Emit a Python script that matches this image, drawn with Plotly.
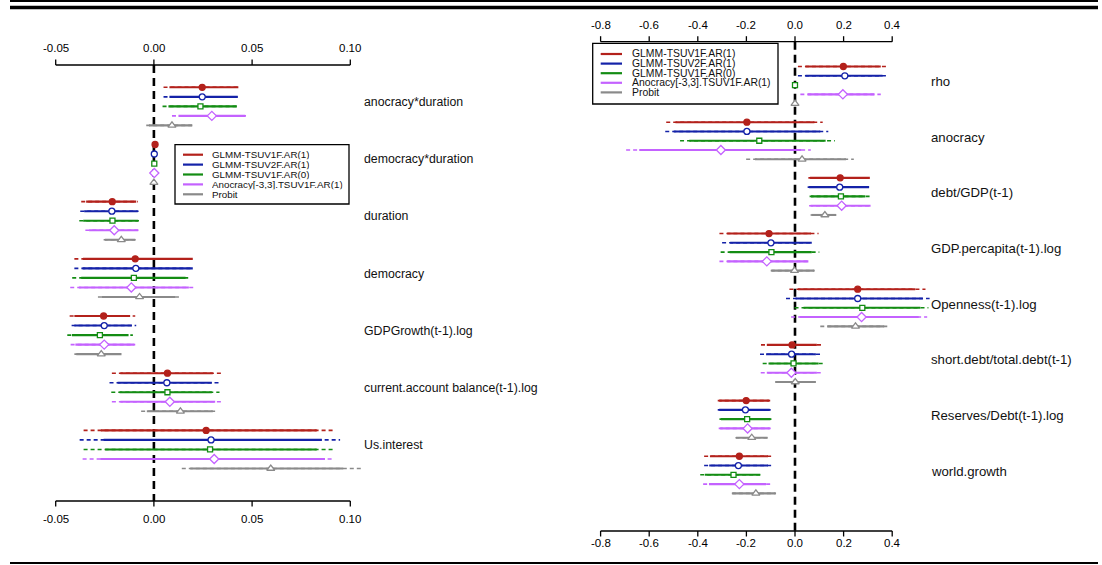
import plotly.graph_objects as go

W, H = 1102, 565
FONT = "Liberation Sans, Arial, Helvetica, sans-serif"

# ---- model series --------------------------------------------------------
SERIES = ["GLMM-TSUV1F.AR(1)", "GLMM-TSUV2F.AR(1)", "GLMM-TSUV1F.AR(0)",
          "Anocracy[-3,3].TSUV1F.AR(1)", "Probit"]
COLORS = ["#B3211B", "#1422A8", "#138C13", "#C462FF", "#8A8A8A"]
SYMBOLS = ["circle", "circle", "square", "diamond", "triangle-up"]
FILLED = [True, False, False, False, False]
MSIZE = [6, 6, 5, 7, 7]

# ---- left panel: coefficients -------------------------------------------
LEFT_VARS = ["anocracy*duration", "democracy*duration", "duration", "democracy",
             "GDPGrowth(t-1).log", "current.account balance(t-1).log", "Us.interest"]
LEFT_TICKS = [-0.05, 0.0, 0.05, 0.10]
LEFT_TICK_TEXT = ["-0.05", "0.00", "0.05", "0.10"]

# rows = series (same order as SERIES), columns = LEFT_VARS
LEFT_EST = [
    [0.0246, 0.0006, -0.0212, -0.0095, -0.0256, 0.0069, 0.0266],
    [0.0246, 0.0002, -0.0214, -0.0092, -0.0253, 0.0066, 0.0291],
    [0.0237, 0.0002, -0.0211, -0.0102, -0.0275, 0.0069, 0.0286],
    [0.0295, 0.0002, -0.0202, -0.0115, -0.0253, 0.0081, 0.0307],
    [0.0092, 0.0000, -0.0166, -0.0073, -0.0268, 0.0135, 0.0595],
]
LEFT_LO95 = [
    [0.0049, 0.0003, -0.0370, -0.0405, -0.0429, -0.0214, -0.0358],
    [0.0049, -0.0001, -0.0375, -0.0405, -0.0419, -0.0226, -0.0378],
    [0.0044, -0.0001, -0.0380, -0.0416, -0.0441, -0.0217, -0.0358],
    [0.0092, -0.0001, -0.0349, -0.0426, -0.0424, -0.0214, -0.0363],
    [-0.0039, -0.0001, -0.0256, -0.0285, -0.0405, -0.0065, 0.0142],
]
LEFT_LO90 = [
    [0.0079, 0.0004, -0.0345, -0.0361, -0.0405, -0.0171, -0.0270],
    [0.0079, 0.0000, -0.0355, -0.0363, -0.0405, -0.0185, -0.0256],
    [0.0074, 0.0000, -0.0360, -0.0370, -0.0417, -0.0175, -0.0248],
    [0.0125, 0.0000, -0.0330, -0.0382, -0.0400, -0.0171, -0.0273],
    [-0.0025, 0.0000, -0.0250, -0.0265, -0.0395, -0.0036, 0.0185],
]
LEFT_HI90 = [
    [0.0430, 0.0008, -0.0090, 0.0198, -0.0121, 0.0300, 0.0829],
    [0.0427, 0.0004, -0.0082, 0.0198, -0.0112, 0.0295, 0.0855],
    [0.0422, 0.0004, -0.0080, 0.0161, -0.0129, 0.0295, 0.0829],
    [0.0465, 0.0004, -0.0080, 0.0178, -0.0100, 0.0312, 0.0871],
    [0.0195, 0.0001, -0.0095, 0.0108, -0.0165, 0.0300, 0.0964],
]
LEFT_HI95 = [
    [0.0435, 0.0009, -0.0081, 0.0200, -0.0095, 0.0346, 0.0922],
    [0.0430, 0.0005, -0.0078, 0.0200, -0.0090, 0.0334, 0.0948],
    [0.0424, 0.0005, -0.0076, 0.0188, -0.0107, 0.0334, 0.0922],
    [0.0469, 0.0005, -0.0070, 0.0210, -0.0095, 0.0346, 0.0917],
    [0.0201, 0.0002, -0.0090, 0.0137, -0.0158, 0.0312, 0.1063],
]

# ---- right panel: coefficients ------------------------------------------
RIGHT_VARS = ["rho", "anocracy", "debt/GDP(t-1)", "GDP.percapita(t-1).log",
              "Openness(t-1).log", "short.debt/total.debt(t-1)",
              "Reserves/Debt(t-1).log", "world.growth"]
RIGHT_TICKS = [-0.8, -0.6, -0.4, -0.2, 0.0, 0.2, 0.4]
RIGHT_TICK_TEXT = ["-0.8", "-0.6", "-0.4", "-0.2", "0.0", "0.2", "0.4"]

RIGHT_EST = [
    [0.199, -0.198, 0.186, -0.107, 0.258, -0.012, -0.201, -0.229],
    [0.205, -0.198, 0.184, -0.099, 0.258, -0.014, -0.204, -0.233],
    [0.000, -0.147, 0.189, -0.097, 0.277, -0.006, -0.197, -0.253],
    [0.197, -0.305, 0.192, -0.116, 0.274, -0.015, -0.195, -0.229],
    [0.000, 0.029, 0.123, -0.002, 0.249, 0.001, -0.178, -0.161],
]
RIGHT_LO95 = [
    [0.012, -0.530, 0.055, -0.311, -0.023, -0.140, -0.318, -0.374],
    [0.012, -0.534, 0.052, -0.300, -0.037, -0.144, -0.318, -0.374],
    [0.000, -0.473, 0.060, -0.306, -0.002, -0.133, -0.311, -0.390],
    [0.022, -0.695, 0.058, -0.311, -0.016, -0.141, -0.314, -0.378],
    [0.000, -0.201, 0.064, -0.100, 0.104, -0.082, -0.245, -0.260],
]
RIGHT_LO90 = [
    [0.043, -0.492, 0.062, -0.279, 0.012, -0.116, -0.312, -0.350],
    [0.043, -0.499, 0.058, -0.267, 0.002, -0.119, -0.312, -0.353],
    [0.000, -0.435, 0.066, -0.269, 0.035, -0.109, -0.305, -0.371],
    [0.052, -0.641, 0.064, -0.279, 0.019, -0.116, -0.308, -0.354],
    [0.000, -0.165, 0.068, -0.097, 0.133, -0.080, -0.243, -0.258],
]
RIGHT_HI90 = [
    [0.353, 0.080, 0.308, 0.066, 0.495, 0.090, -0.106, -0.111],
    [0.360, 0.104, 0.305, 0.069, 0.526, 0.086, -0.104, -0.111],
    [0.000, 0.126, 0.289, 0.069, 0.516, 0.097, -0.101, -0.143],
    [0.327, 0.026, 0.311, 0.055, 0.509, 0.090, -0.104, -0.119],
    [0.000, 0.210, 0.170, 0.079, 0.367, 0.086, -0.113, -0.080],
]
RIGHT_HI95 = [
    [0.378, 0.114, 0.312, 0.097, 0.537, 0.111, -0.102, -0.087],
    [0.384, 0.137, 0.309, 0.072, 0.554, 0.107, -0.100, -0.090],
    [0.000, 0.164, 0.316, 0.100, 0.549, 0.118, -0.097, -0.141],
    [0.353, 0.065, 0.315, 0.062, 0.544, 0.111, -0.100, -0.098],
    [0.000, 0.242, 0.172, 0.081, 0.392, 0.088, -0.111, -0.078],
]

GROUP_STEP = 6  # five model rows plus one blank row per variable


def fx(px):
    return px / W


def fy(px):
    return 1 - px / H


# panel geometry (pixels): x0 = pixel of value 0, sx = pixels per unit,
# r0 = pixel of first row, sr = pixels per row
PANELS = [
    dict(xa="x", ya="y", x0=153.9, sx=1964.0, r0=87.3, sr=9.53,
         dom=(0, 560), vars=LEFT_VARS, ticks=LEFT_TICKS, ticktext=LEFT_TICK_TEXT,
         est=LEFT_EST, lo95=LEFT_LO95, lo90=LEFT_LO90, hi90=LEFT_HI90, hi95=LEFT_HI95,
         ax_top=65, ax_bot=501, lab_top=48, lab_bot=519, tick_font=11.5,
         var_x=362, var_font=12.3, var_off=1.55,
         legend=dict(box=(175, 144.7, 349, 204), row0=154.7, drow=9.9,
                     line=(183, 203), text=211, font=9.8, box_h=9.3)),
    dict(xa="x2", ya="y2", x0=795.0, sx=243.0, r0=66.5, sr=9.28,
         dom=(560, W), vars=RIGHT_VARS, ticks=RIGHT_TICKS, ticktext=RIGHT_TICK_TEXT,
         est=RIGHT_EST, lo95=RIGHT_LO95, lo90=RIGHT_LO90, hi90=RIGHT_HI90, hi95=RIGHT_HI95,
         ax_top=41.7, ax_bot=531, lab_top=25, lab_bot=543, tick_font=11.5,
         var_x=929, var_font=13.2, var_off=1.6,
         legend=dict(box=(592.7, 43.3, 778, 104), row0=54, drow=9.6,
                     line=(600.7, 622), text=630.7, font=10.4, box_h=None)),
]

fig = go.Figure()
shapes = []
annotations = []

for p in PANELS:
    xa, ya = p["xa"], p["ya"]
    for s, name in enumerate(SERIES):
        rows = [g * GROUP_STEP + s for g in range(len(p["vars"]))]
        xo, yo, xi, yi = [], [], [], []
        for g, r in enumerate(rows):
            if p["hi95"][s][g] > p["lo95"][s][g]:
                xo += [p["lo95"][s][g], p["hi95"][s][g], None]
                yo += [r, r, None]
            if p["hi90"][s][g] > p["lo90"][s][g]:
                xi += [p["lo90"][s][g], p["hi90"][s][g], None]
                yi += [r, r, None]
        fig.add_trace(go.Scatter(x=xo, y=yo, xaxis=xa, yaxis=ya, mode="lines",
                                 line=dict(color=COLORS[s], width=1.6, dash="4px,3px"),
                                 showlegend=False, hoverinfo="skip"))
        fig.add_trace(go.Scatter(x=xi, y=yi, xaxis=xa, yaxis=ya, mode="lines",
                                 line=dict(color=COLORS[s], width=2.1),
                                 showlegend=False, hoverinfo="skip"))
        fig.add_trace(go.Scatter(
            x=p["est"][s], y=rows, xaxis=xa, yaxis=ya, mode="markers", name=name,
            marker=dict(symbol=SYMBOLS[s], size=MSIZE[s],
                        color=COLORS[s] if FILLED[s] else "white",
                        line=dict(color=COLORS[s], width=1.3)),
            showlegend=False, cliponaxis=False))

    # zero reference line
    shapes.append(dict(type="line", xref=xa, yref="paper", x0=0, x1=0,
                       y0=fy(p["ax_top"]), y1=fy(p["ax_bot"]),
                       line=dict(color="black", width=2.6, dash="8px,5px"), layer="below"))

    # top and bottom axes (line spans first to last tick)
    for ay, ly, direction in ((p["ax_top"], p["lab_top"], -1), (p["ax_bot"], p["lab_bot"], 1)):
        shapes.append(dict(type="line", xref=xa, yref="paper",
                           x0=p["ticks"][0], x1=p["ticks"][-1], y0=fy(ay), y1=fy(ay),
                           line=dict(color="black", width=1.3)))
        for t, tt in zip(p["ticks"], p["ticktext"]):
            shapes.append(dict(type="line", xref=xa, yref="paper", x0=t, x1=t,
                               y0=fy(ay), y1=fy(ay + direction * 5.5),
                               line=dict(color="black", width=1.3)))
            annotations.append(dict(x=t, xref=xa, y=fy(ly), yref="paper", text=tt,
                                    showarrow=False, xanchor="center", yanchor="middle",
                                    font=dict(family=FONT, size=p["tick_font"], color="black")))

    # variable labels
    for g, v in enumerate(p["vars"]):
        annotations.append(dict(x=fx(p["var_x"]), xref="paper",
                                y=g * GROUP_STEP + p["var_off"], yref=ya, text=v,
                                showarrow=False, xanchor="left", yanchor="middle",
                                font=dict(family=FONT, size=p["var_font"], color="#111")))

    # legend box
    lg = p["legend"]
    bx0, by0, bx1, by1 = lg["box"]
    shapes.append(dict(type="rect", xref="paper", yref="paper",
                       x0=fx(bx0), x1=fx(bx1), y0=fy(by0), y1=fy(by1),
                       line=dict(color="black", width=1.3), fillcolor="white"))
    for s, name in enumerate(SERIES):
        ry = lg["row0"] + s * lg["drow"]
        shapes.append(dict(type="line", xref="paper", yref="paper",
                           x0=fx(lg["line"][0]), x1=fx(lg["line"][1]), y0=fy(ry), y1=fy(ry),
                           line=dict(color=COLORS[s], width=2.2)))
        ann = dict(x=fx(lg["text"]), xref="paper", y=fy(ry), yref="paper",
                   text=name, showarrow=False, xanchor="left", yanchor="middle",
                   borderpad=0, font=dict(family=FONT, size=lg["font"], color="#111"))
        if lg["box_h"]:
            ann["height"] = lg["box_h"]
        annotations.append(ann)

# page rules
for y_px, wdt in ((1, 2), (7.5, 3.5), (563, 2)):
    shapes.append(dict(type="line", xref="paper", yref="paper", x0=fx(10), x1=fx(1098),
                       y0=fy(y_px), y1=fy(y_px), line=dict(color="black", width=wdt)))


def axis_range(p):
    xr = [(p["dom"][0] - p["x0"]) / p["sx"], (p["dom"][1] - p["x0"]) / p["sx"]]
    yr = [(H - p["r0"]) / p["sr"], (0 - p["r0"]) / p["sr"]]
    return xr, yr


xr1, yr1 = axis_range(PANELS[0])
xr2, yr2 = axis_range(PANELS[1])
hidden = dict(visible=False, showgrid=False, zeroline=False, fixedrange=True)

fig.update_layout(
    width=W, height=H, autosize=False,
    margin=dict(l=0, r=0, t=0, b=0),
    paper_bgcolor="white", plot_bgcolor="rgba(0,0,0,0)",
    showlegend=False,
    xaxis=dict(domain=[fx(PANELS[0]["dom"][0]), fx(PANELS[0]["dom"][1])], range=xr1,
               anchor="y", **hidden),
    yaxis=dict(domain=[0, 1], range=yr1, anchor="x", **hidden),
    xaxis2=dict(domain=[fx(PANELS[1]["dom"][0]), fx(PANELS[1]["dom"][1])], range=xr2,
                anchor="y2", **hidden),
    yaxis2=dict(domain=[0, 1], range=yr2, anchor="x2", **hidden),
    shapes=shapes,
    annotations=annotations,
    font=dict(family=FONT),
)

fig.write_html("out.html", config={"displayModeBar": False})
